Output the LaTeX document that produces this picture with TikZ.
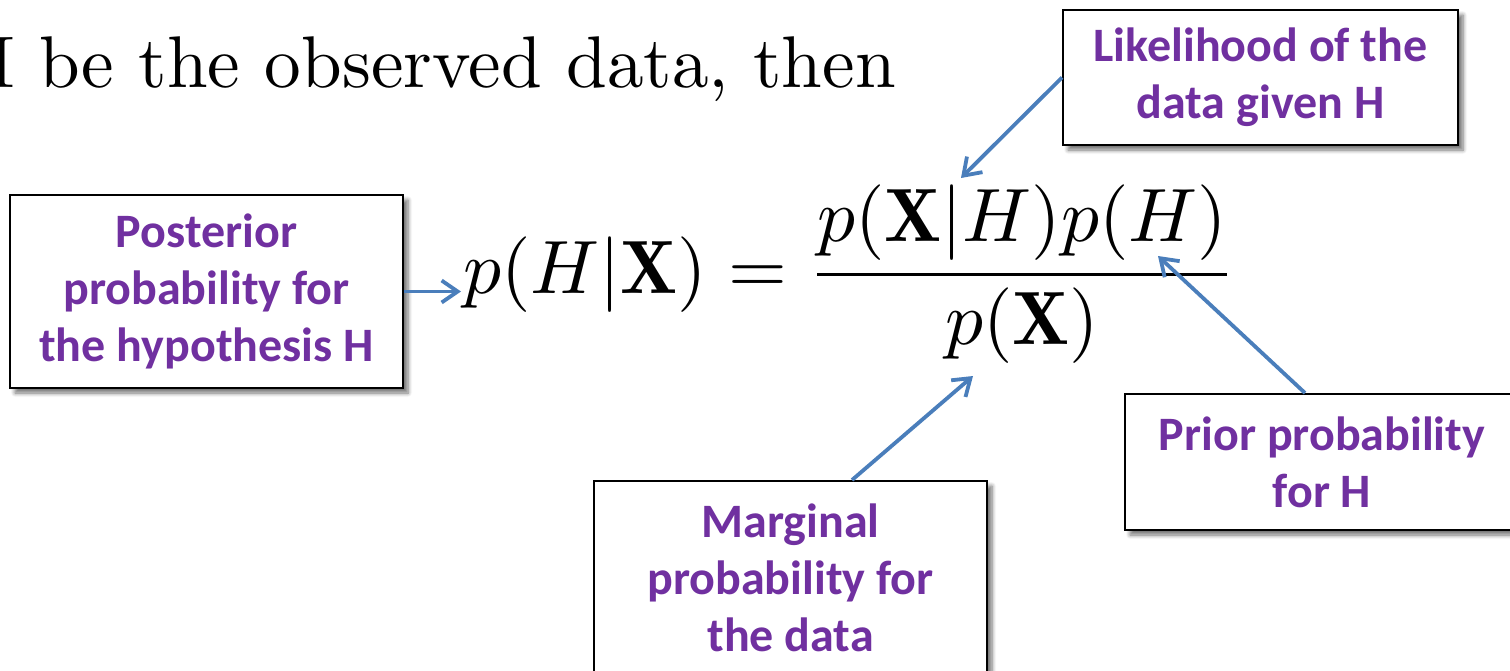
\documentclass[tikz,border=0pt]{standalone}
\usepackage{fontspec}
\newfontfamily\lblfont{Carlito}
\usetikzlibrary{arrows.meta,shadows.blur,calc}
\definecolor{lblpurple}{HTML}{7030A0}
\definecolor{arrblue}{HTML}{4A7EBB}
\begin{document}
\begin{tikzpicture}[x=0.5pt,y=-0.5pt,
  lbox/.style={draw=black, line width=1pt, fill=white, align=center,
    text=lblpurple, font=\lblfont\bfseries\fontsize{24}{28.5}\selectfont,
    inner sep=0pt,
    blur shadow={shadow xshift=2.5pt,shadow yshift=-2.5pt,shadow blur steps=6,shadow blur radius=2pt,shadow opacity=55}},
  conn/.style={draw=arrblue, line width=1.9pt, -{Straight Barb[length=8pt,width=11pt]}},
]
\useasboundingbox (0,0) rectangle (1510,670);
\clip (0,0) rectangle (1510,670);
\node[anchor=base west, inner sep=0pt] (intro) at (-12,87)
  {\scalebox{3.66}{I be the observed data, then}};
\node[anchor=base west, inner sep=0pt] (eq) at (463,293)
  {\scalebox{3.78}{$\displaystyle p(H|\mathbf{X}) = \frac{p(\mathbf{X}|H)p(H)}{p(\mathbf{X})}$}};

\node[lbox, minimum width=196.5pt, minimum height=96.5pt] (post) at (206.5,291.5)
  {Posterior\\probability for\\the hypothesis H};
\node[lbox, minimum width=197.5pt, minimum height=67.5pt] (lik) at (1260.5,77.5)
  {Likelihood of the\\data given H};
\node[lbox, minimum width=197pt, minimum height=68pt] (prior) at (1322,462)
  {Prior probability\\for H};
\node[lbox, minimum width=196.5pt, minimum height=96.5pt] (marg) at (790.5,577.5)
  {Marginal\\probability for\\the data};

\coordinate (tpost) at (461,291.5);
\coordinate (tlik) at (961,178);
\coordinate (tprior) at (1158,256);
\coordinate (tmarg) at (973,376);

\draw[conn] (post.east) -- (tpost);
\draw[conn] (lik.west) -- (tlik);
\draw[conn] ($(prior.north)+(-17,0)$) -- (tprior);
\draw[conn] ($(marg.north)+(61.5,0)$) -- (tmarg);
\end{tikzpicture}
\end{document}
